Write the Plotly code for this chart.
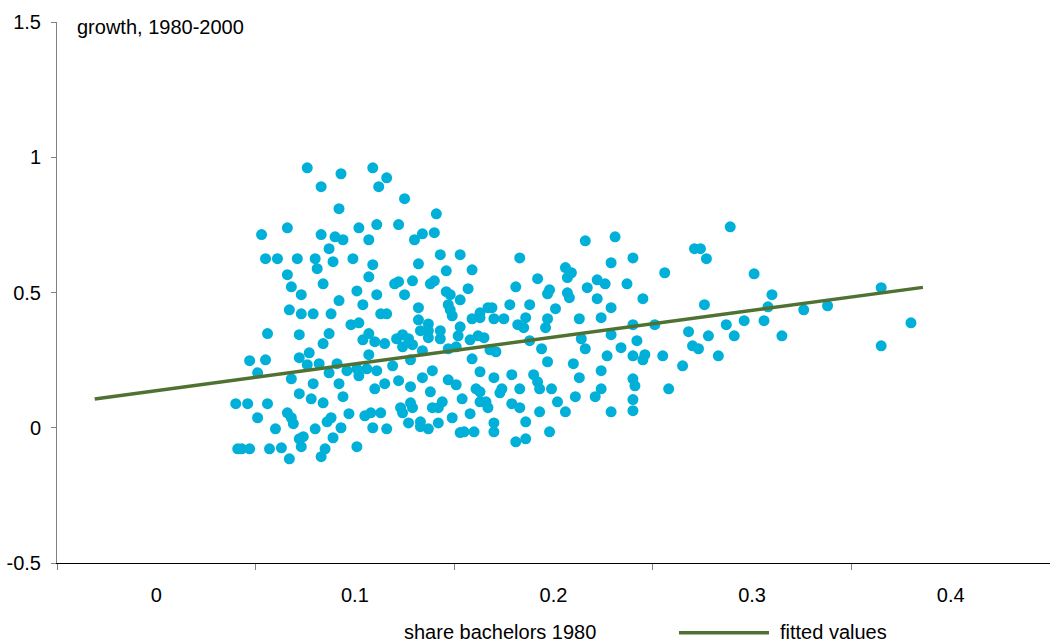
import plotly.graph_objects as go

# share bachelors 1980 (x) and growth 1980-2000 (y)
share_bachelors = [
    0.076, 0.093, 0.109, 0.116, 0.083, 0.112, 0.092, 0.053, 0.066, 0.083,
    0.090, 0.094, 0.102, 0.111, 0.122, 0.107, 0.087, 0.055, 0.061, 0.071,
    0.080, 0.081, 0.089, 0.099, 0.109, 0.066, 0.068, 0.073, 0.084, 0.107,
    0.101, 0.092, 0.104, 0.111, 0.120, 0.122, 0.067, 0.073, 0.079, 0.088,
    0.113, 0.116, 0.125, 0.141, 0.130, 0.134, 0.140, 0.143, 0.153, 0.132,
    0.146, 0.159, 0.183, 0.129, 0.125, 0.138, 0.140, 0.146, 0.148, 0.157,
    0.153, 0.132, 0.147, 0.148, 0.181, 0.192, 0.198, 0.197, 0.178, 0.188,
    0.201, 0.206, 0.207, 0.207, 0.208, 0.167, 0.169, 0.163, 0.209, 0.216,
    0.231, 0.289, 0.271, 0.274, 0.277, 0.240, 0.229, 0.256, 0.222, 0.226,
    0.237, 0.217, 0.222, 0.245, 0.229, 0.276, 0.301, 0.310, 0.308, 0.326,
    0.338, 0.365, 0.296, 0.306, 0.291, 0.315, 0.365, 0.380, 0.213, 0.224,
    0.240, 0.251, 0.268, 0.287, 0.278, 0.214, 0.229, 0.242, 0.216, 0.234,
    0.227, 0.240, 0.246, 0.245, 0.255, 0.270, 0.273, 0.283, 0.265, 0.210,
    0.224, 0.213, 0.240, 0.241, 0.224, 0.258, 0.211, 0.221, 0.240, 0.206,
    0.229, 0.240, 0.149, 0.132, 0.137, 0.133, 0.137, 0.143, 0.153, 0.152,
    0.159, 0.163, 0.170, 0.175, 0.182, 0.185, 0.186, 0.197, 0.196, 0.121,
    0.124, 0.127, 0.124, 0.129, 0.137, 0.143, 0.158, 0.162, 0.165, 0.151,
    0.147, 0.134, 0.168, 0.171, 0.188, 0.194, 0.197, 0.119, 0.128, 0.159,
    0.139, 0.134, 0.122, 0.128, 0.163, 0.170, 0.179, 0.190, 0.192, 0.193,
    0.199, 0.147, 0.151, 0.161, 0.163, 0.174, 0.173, 0.183, 0.138, 0.154,
    0.163, 0.166, 0.167, 0.123, 0.124, 0.128, 0.129, 0.139, 0.142, 0.144,
    0.179, 0.183, 0.202, 0.193, 0.149, 0.158, 0.127, 0.133, 0.133, 0.137,
    0.142, 0.116, 0.170, 0.170, 0.186, 0.153, 0.155, 0.160, 0.198, 0.181,
    0.186, 0.056, 0.072, 0.087, 0.084, 0.098, 0.102, 0.104, 0.107, 0.110,
    0.115, 0.047, 0.055, 0.051, 0.072, 0.077, 0.076, 0.082, 0.091, 0.087,
    0.096, 0.101, 0.102, 0.107, 0.106, 0.111, 0.068, 0.079, 0.092, 0.072,
    0.078, 0.084, 0.094, 0.110, 0.115, 0.040, 0.046, 0.056, 0.051, 0.066,
    0.068, 0.069, 0.060, 0.080, 0.086, 0.088, 0.093, 0.097, 0.105, 0.108,
    0.113, 0.109, 0.072, 0.074, 0.089, 0.041, 0.043, 0.047, 0.057, 0.063,
    0.073, 0.085, 0.101, 0.067, 0.083,
]
growth = [
    0.961, 0.939, 0.961, 0.924, 0.891, 0.891, 0.810, 0.714, 0.739, 0.714,
    0.706, 0.695, 0.739, 0.751, 0.751, 0.695, 0.662, 0.625, 0.625, 0.625,
    0.625, 0.588, 0.614, 0.625, 0.603, 0.566, 0.521, 0.492, 0.532, 0.558,
    0.506, 0.470, 0.455, 0.492, 0.532, 0.540, 0.436, 0.421, 0.421, 0.421,
    0.421, 0.421, 0.847, 0.791, 0.695, 0.717, 0.721, 0.640, 0.640, 0.606,
    0.580, 0.584, 0.628, 0.543, 0.492, 0.532, 0.543, 0.503, 0.492, 0.514,
    0.473, 0.444, 0.455, 0.436, 0.521, 0.551, 0.510, 0.495, 0.455, 0.455,
    0.440, 0.592, 0.555, 0.499, 0.481, 0.444, 0.444, 0.425, 0.573, 0.691,
    0.706, 0.743, 0.662, 0.662, 0.625, 0.628, 0.610, 0.573, 0.547, 0.532,
    0.532, 0.518, 0.477, 0.477, 0.444, 0.455, 0.569, 0.492, 0.447, 0.436,
    0.451, 0.518, 0.396, 0.396, 0.340, 0.340, 0.303, 0.388, 0.403, 0.407,
    0.381, 0.381, 0.355, 0.381, 0.340, 0.329, 0.344, 0.322, 0.292, 0.296,
    0.266, 0.266, 0.270, 0.251, 0.266, 0.303, 0.292, 0.266, 0.229, 0.237,
    0.211, 0.185, 0.181, 0.155, 0.144, 0.144, 0.115, 0.115, 0.104, 0.059,
    0.059, 0.063, 0.414, 0.399, 0.384, 0.359, 0.359, 0.359, 0.373, 0.340,
    0.403, 0.407, 0.403, 0.403, 0.381, 0.370, 0.407, 0.403, 0.370, 0.329,
    0.344, 0.329, 0.299, 0.307, 0.333, 0.329, 0.325, 0.340, 0.333, 0.299,
    0.292, 0.285, 0.288, 0.281, 0.322, 0.292, 0.244, 0.229, 0.251, 0.255,
    0.211, 0.185, 0.174, 0.152, 0.207, 0.185, 0.196, 0.196, 0.170, 0.144,
    0.144, 0.177, 0.159, 0.144, 0.133, 0.144, 0.129, 0.144, 0.133, 0.107,
    0.096, 0.096, 0.074, 0.074, 0.055, 0.092, 0.074, 0.074, 0.074, 0.096,
    0.089, 0.074, 0.096, 0.059, 0.037, 0.052, 0.018, 0.022, 0.004, -0.004,
    0.018, -0.004, 0.018, -0.015, 0.022, -0.018, -0.015, -0.015, -0.015, -0.052,
    -0.041, 0.348, 0.344, 0.348, 0.311, 0.381, 0.388, 0.325, 0.348, 0.318,
    0.311, 0.248, 0.251, 0.203, 0.259, 0.277, 0.233, 0.237, 0.237, 0.203,
    0.211, 0.218, 0.192, 0.270, 0.218, 0.211, 0.181, 0.163, 0.163, 0.126,
    0.107, 0.092, 0.115, 0.144, 0.163, 0.089, 0.089, 0.089, 0.037, 0.055,
    0.037, 0.015, -0.004, -0.004, 0.022, 0.037, 0.000, 0.052, 0.044, 0.055,
    0.055, 0.000, -0.041, -0.033, -0.037, -0.078, -0.078, -0.078, -0.078, -0.074,
    -0.070, -0.078, -0.070, -0.115, -0.107,
]

# fitted regression line (endpoints)
fit_x = [-0.031, 0.386]
fit_y = [0.106, 0.519]

x_ticks = [0, 0.1, 0.2, 0.3, 0.4]
x_ticktext = ["0", "0.1", "0.2", "0.3", "0.4"]
y_ticks = [-0.5, 0, 0.5, 1, 1.5]
y_ticktext = ["-0.5", "0", "0.5", "1", "1.5"]

DOT = "#00B0D8"
LINE = "#4F7233"
FONT = "Liberation Sans, Arial, Helvetica, sans-serif"

fig = go.Figure()
fig.add_trace(go.Scatter(
    x=share_bachelors, y=growth, mode="markers",
    marker=dict(color=DOT, size=11, line=dict(width=0)),
    name="share bachelors 1980", showlegend=False, hoverinfo="skip",
))
fig.add_trace(go.Scatter(
    x=fit_x, y=fit_y, mode="lines",
    line=dict(color=LINE, width=3.5),
    name="fitted values", showlegend=False, hoverinfo="skip",
))

fig.update_layout(
    width=1050, height=643,
    margin=dict(l=57, r=0, t=22, b=80),
    paper_bgcolor="white", plot_bgcolor="white",
    font=dict(family=FONT, size=20, color="black"),
    xaxis=dict(
        range=[-0.05, 0.45], showgrid=False, zeroline=False,
        showline=True, linecolor="black", linewidth=1,
        tickmode="array", tickvals=x_ticks, ticktext=x_ticktext,
        ticks="", ticklabelstandoff=14,
        minor=dict(tickmode="array", tickvals=[-0.05, 0.05, 0.15, 0.25, 0.35, 0.45],
                   ticks="outside", ticklen=6, tickcolor="#808080", tickwidth=1),
    ),
    yaxis=dict(
        range=[-0.5, 1.5], showgrid=False, zeroline=False,
        showline=True, linecolor="#808080", linewidth=1,
        tickmode="array", tickvals=y_ticks, ticktext=y_ticktext,
        ticks="outside", ticklen=5, tickcolor="#808080", tickwidth=1,
        ticklabelstandoff=6,
    ),
    annotations=[
        dict(text="growth, 1980-2000", xref="paper", yref="paper",
             x=0.018, y=0.991, xanchor="left", yanchor="middle",
             showarrow=False, font=dict(size=20)),
        dict(text="share bachelors 1980", xref="paper", yref="paper",
             x=0.446, y=-0.1275, xanchor="center", yanchor="middle",
             showarrow=False, font=dict(size=20)),
        dict(text="fitted values", xref="paper", yref="paper",
             x=0.726, y=-0.1275, xanchor="left", yanchor="middle",
             showarrow=False, font=dict(size=20)),
    ],
    shapes=[
        dict(type="line", xref="paper", yref="paper",
             x0=0.6264, x1=0.717, y0=-0.129, y1=-0.129,
             line=dict(color=LINE, width=3.5)),
    ],
)

fig.write_html("out.html")
